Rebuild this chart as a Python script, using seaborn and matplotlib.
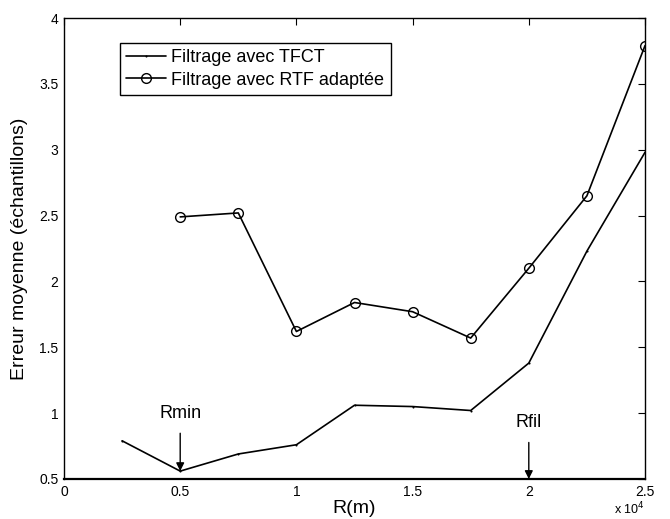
import matplotlib
matplotlib.use("Agg")
import matplotlib.pyplot as plt
import seaborn as sns
import pandas as pd
from matplotlib.ticker import FuncFormatter

# Data
r_tfct = [2500, 5000, 7500, 10000, 12500, 15000, 17500, 20000, 22500, 25000]
err_tfct = [0.79, 0.56, 0.69, 0.76, 1.06, 1.05, 1.02, 1.38, 2.23, 2.98]
r_rtf = [5000, 7500, 10000, 12500, 15000, 17500, 20000, 22500, 25000]
err_rtf = [2.49, 2.52, 1.62, 1.84, 1.77, 1.57, 2.10, 2.65, 3.79]
labels = ["Filtrage avec TFCT", "Filtrage avec RTF adaptée"]
x_ticks = [0, 5000, 10000, 15000, 20000, 25000]
y_ticks = [0.5, 1, 1.5, 2, 2.5, 3, 3.5, 4]

df1 = pd.DataFrame({"R": r_tfct, "E": err_tfct})
df2 = pd.DataFrame({"R": r_rtf, "E": err_rtf})

sns.set_theme(style="white")
plt.rcParams['font.family'] = ['Liberation Sans', 'DejaVu Sans']
plt.rcParams.update({"text.color": "black", "axes.labelcolor": "black",
                     "xtick.color": "black", "ytick.color": "black"})

fig = plt.figure(figsize=(6.7, 5.19), dpi=100)
ax = fig.add_axes([64/670, 1-479/519, (645-64)/670, (479-18)/519])

sns.lineplot(data=df1, x="R", y="E", ax=ax, color="black", lw=1.2,
             marker=".", markersize=3, markeredgewidth=0, label=labels[0])
sns.lineplot(data=df2, x="R", y="E", ax=ax, color="black", lw=1.2,
             marker="o", markersize=7, markerfacecolor="none",
             markeredgecolor="black", markeredgewidth=1.0, label=labels[1])

ax.set_xlim(0, 25000)
ax.set_ylim(0.5, 4)
ax.set_xticks(x_ticks)
ax.set_yticks(y_ticks)
ax.xaxis.set_major_formatter(FuncFormatter(lambda v, p: f"{v/1e4:g}"))
ax.yaxis.set_major_formatter(FuncFormatter(lambda v, p: f"{v:g}"))
ax.tick_params(direction="in", length=5, width=0.8, top=True, right=True,
               labelsize=10, colors="black", pad=4)
for s in ax.spines.values():
    s.set_linewidth(1.0)
    s.set_color("black")
ax.spines['bottom'].set_linewidth(1.6)

ax.set_xlabel("R(m)", fontsize=14, labelpad=1, color="black")
ax.set_ylabel("Erreur moyenne (échantillons)", fontsize=14, labelpad=8,
              color="black")
ax.text(1.0, -0.066, r"x 10$^4$", transform=ax.transAxes, ha="right",
        va="center", fontsize=9, color="black")

ax.annotate("Rmin", xy=(5000, 0.56), xytext=(5000, 1.0),
            ha="center", va="center", fontsize=13, color="black",
            arrowprops=dict(arrowstyle="-|>", color="black", lw=1.0,
                            shrinkA=6, shrinkB=0, mutation_scale=12))
ax.annotate("Rfil", xy=(20000, 0.5), xytext=(20000, 0.93),
            ha="center", va="center", fontsize=13, color="black",
            arrowprops=dict(arrowstyle="-|>", color="black", lw=1.0,
                            shrinkA=6, shrinkB=0, mutation_scale=12))

leg = ax.legend(loc="upper left", bbox_to_anchor=(0.096, 0.946), fontsize=13,
                frameon=True, fancybox=False, edgecolor="black", framealpha=1,
                handlelength=2.2, handletextpad=0.3, borderpad=0.35,
                labelspacing=0.3, borderaxespad=0)
leg.get_frame().set_linewidth(1.0)
for t in leg.get_texts():
    t.set_color("black")

fig.savefig("out.png", dpi=100)
